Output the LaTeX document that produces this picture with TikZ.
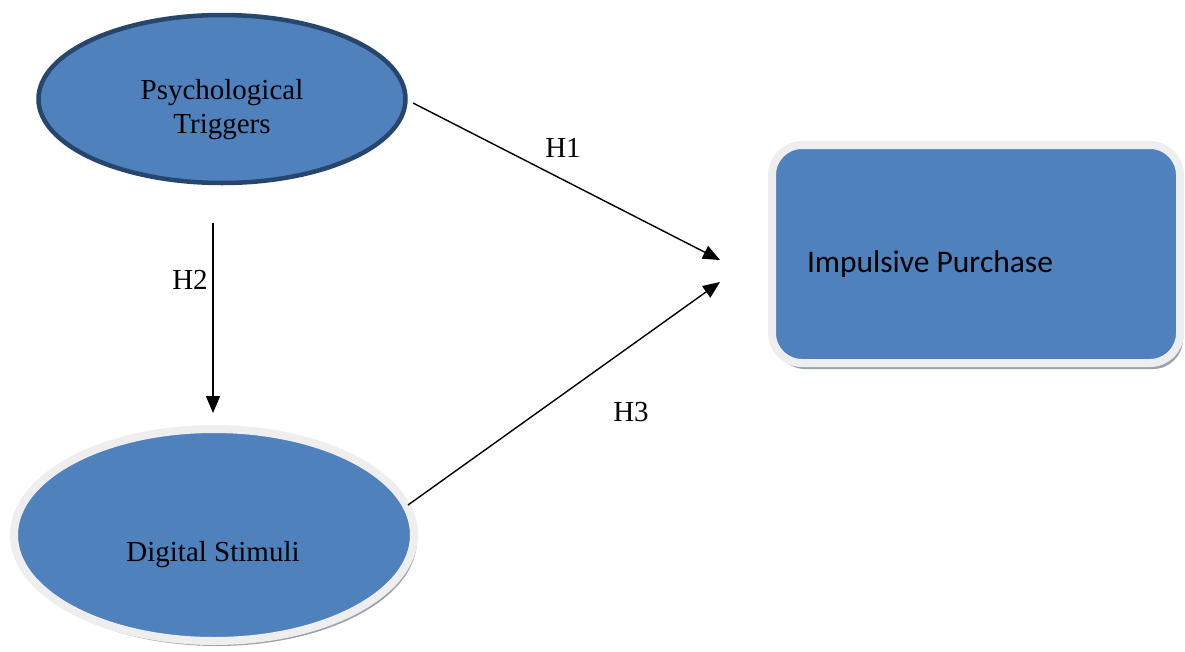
\documentclass[tikz,border=0pt]{standalone}
\usepackage{fontspec}
\setmainfont{Liberation Serif}
\newfontfamily\calibri{Carlito}
\usetikzlibrary{shapes.geometric,arrows.meta,shadows}
\definecolor{fillblue}{HTML}{4F81BD}
\definecolor{darkrim}{HTML}{27466E}
\definecolor{lightrim}{HTML}{EEEEEE}
\definecolor{shadowgray}{HTML}{8C99A8}
\tikzset{
  every node/.style={inner sep=0pt, outer sep=0pt},
  ovalA/.style={ellipse, fill=fillblue, draw=darkrim, line width=4.5pt,
    minimum width=367pt, minimum height=168pt},
  ovalB/.style={ellipse, fill=fillblue, draw=lightrim, line width=8pt,
    minimum width=400pt, minimum height=212pt,
    drop shadow={shadow xshift=3pt, shadow yshift=-5pt, fill=shadowgray, opacity=0.9}},
  boxC/.style={rectangle, rounded corners=30pt, fill=fillblue, draw=lightrim, line width=8pt,
    minimum width=408pt, minimum height=218pt,
    drop shadow={shadow xshift=3pt, shadow yshift=-6pt, fill=shadowgray, opacity=0.9}},
  link/.style={line width=1.4pt, -{Triangle[length=17pt,width=14pt]}},
  lbl/.style={font=\fontsize{29}{32}\selectfont},
  txt/.style={font=\fontsize{29}{34}\selectfont, align=center}
}
\begin{document}
\begin{tikzpicture}[x=1pt,y=-1pt]
\useasboundingbox (0,0) rectangle (1185,651);
\node[ovalA] (pt) at (222,99) {};
\node[txt] at (222,110) {Psychological\\Triggers};
\node[ovalB] (ds) at (214,535) {};
\node[txt] at (213,555) {Digital Stimuli};
\node[boxC] (ip) at (976,254) {};
\node[anchor=west, font=\calibri\fontsize{31.5}{34}\selectfont] at (807,264) {Impulsive Purchase};
\coordinate (t1) at (720,260);
\coordinate (t2) at (720,282);
\coordinate (h2s) at (213,223);
\coordinate (h2e) at (213,413);
\draw[link] (413,103) -- (t1);
\draw[link] (h2s) -- (h2e);
\draw[link] (408,505) -- (t2);
\node[lbl] at (563,148) {H1};
\node[lbl] at (190,280) {H2};
\node[lbl] at (631,412) {H3};
\end{tikzpicture}
\end{document}
